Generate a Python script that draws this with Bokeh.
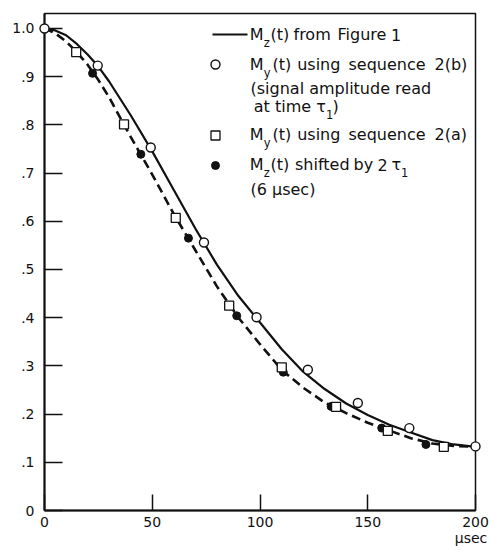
from bokeh.plotting import figure
from bokeh.models import FixedTicker, LinearAxis, ColumnDataSource
from bokeh.core.properties import value
from bokeh.embed import file_html
from bokeh.resources import INLINE

# ---------------- data ----------------
# M_z(t) from Figure 1 (solid curve)
fig1_t = [0, 5, 10, 15, 20, 25, 30, 40, 50, 60, 70, 80, 90, 100, 110, 120,
          130, 140, 150, 160, 170, 180, 190, 200]
fig1_m = [1.000, 0.996, 0.986, 0.968, 0.946, 0.921, 0.890, 0.820, 0.745,
          0.665, 0.585, 0.510, 0.445, 0.390, 0.335, 0.288, 0.252, 0.222,
          0.198, 0.178, 0.162, 0.146, 0.137, 0.132]
# M_z(t) shifted by 2 tau1 (dashed curve)
shift_t = [0, 5, 10, 15, 20, 25, 30, 40, 50, 60, 70, 80, 90, 100, 110, 120,
           130, 140, 150, 160, 170, 180, 190, 200]
shift_m = [1.000, 0.990, 0.973, 0.951, 0.925, 0.893, 0.857, 0.775, 0.697,
           0.615, 0.540, 0.465, 0.400, 0.345, 0.292, 0.255, 0.224, 0.202,
           0.182, 0.166, 0.150, 0.139, 0.134, 0.132]
# M_y(t) using sequence 2(b) (open circles)
seq2b_t = [0, 24.7, 49.3, 74.0, 98.4, 122.2, 145.4, 169.3, 200]
seq2b_m = [1.000, 0.923, 0.753, 0.556, 0.401, 0.292, 0.223, 0.171, 0.133]
# M_y(t) using sequence 2(a) (open squares)
seq2a_t = [14.7, 36.9, 60.9, 85.7, 110.1, 135.3, 159.3, 185.3]
seq2a_m = [0.951, 0.801, 0.607, 0.425, 0.297, 0.215, 0.165, 0.132]
# M_z(t) shifted by 2 tau1 (filled circles)
shifted_t = [22.3, 44.7, 66.8, 89.2, 110.8, 133.0, 156.5, 177.0]
shifted_m = [0.907, 0.739, 0.565, 0.404, 0.287, 0.216, 0.171, 0.137]

x_ticks = [0, 50, 100, 150, 200]
x_tick_labels = ["0", "50", "100", "150", "200"]
x_unit = "\u03bcsec"
y_ticks = [0.0, 0.1, 0.2, 0.3, 0.4, 0.5, 0.6, 0.7, 0.8, 0.9, 1.0]
y_tick_labels = ["0", ".1", ".2", ".3", ".4", ".5", ".6", ".7", ".8", ".9", "1.0"]

# ---------------- layout ----------------
W, H = 489, 552
LEFT, RIGHT, TOP, BOTTOM = 44, 14, 13, 42
X0, X1 = 0, 200
Y0, Y1 = 0, 1.0311
FONT = "DejaVu Sans"
INK = "#111111"

FW, FH = W - LEFT - RIGHT, H - TOP - BOTTOM


def dx(px):
    return X0 + (px - LEFT) / FW * (X1 - X0)


def dy(py):
    return Y0 + (TOP + FH - py) / FH * (Y1 - Y0)


p = figure(width=W, height=H, x_range=(X0, X1), y_range=(Y0, Y1),
           output_backend="svg", toolbar_location=None, title=None,
           min_border_left=LEFT, min_border_right=RIGHT,
           min_border_top=TOP, min_border_bottom=BOTTOM,
           background_fill_color="white", border_fill_color="white")

p.xgrid.visible = False
p.ygrid.visible = False
p.outline_line_color = INK
p.outline_line_width = 1.5
p.outline_line_alpha = 1.0

for ax in (p.xaxis[0], p.yaxis[0]):
    ax.axis_line_color = INK
    ax.axis_line_width = 2
    ax.major_tick_line_color = INK
    ax.major_tick_line_width = 1.5
    ax.minor_tick_line_color = None
    ax.major_tick_out = 0
    ax.major_label_text_font = FONT
    ax.major_label_text_font_size = "14px"
    ax.major_label_text_color = INK

p.xaxis.ticker = FixedTicker(ticks=x_ticks)
p.xaxis.major_label_overrides = dict(zip(x_ticks, x_tick_labels))
p.xaxis.major_tick_in = 16
p.xaxis.major_label_standoff = 6

p.yaxis.ticker = FixedTicker(ticks=y_ticks)
p.yaxis.major_label_overrides = dict(zip(y_ticks, y_tick_labels))
p.yaxis.major_tick_in = 18
p.yaxis.major_label_standoff = 10

# unit under the last x tick label ("μsec" below "200")
unit_axis = LinearAxis(ticker=FixedTicker(ticks=[x_ticks[-1]]),
                       major_label_overrides={x_ticks[-1]: x_unit},
                       axis_line_color=None, major_tick_line_color=None,
                       minor_tick_line_color=None, major_tick_in=0,
                       major_tick_out=0, major_label_standoff=0,
                       major_label_text_font=FONT,
                       major_label_text_font_size="14px",
                       major_label_text_color=INK)
p.add_layout(unit_axis, "below")

# curves
p.line(fig1_t, fig1_m, line_color=INK, line_width=2.2)
p.line(shift_t, shift_m, line_color=INK, line_width=2.6, line_dash="9 5")

# markers
MS = 9
r1 = p.scatter(shifted_t, shifted_m, marker="circle", size=8,
               fill_color=INK, line_color=INK)
r2 = p.scatter(seq2a_t, seq2a_m, marker="square", size=MS,
               fill_color="white", line_color=INK, line_width=1.3)
r3 = p.scatter(seq2b_t, seq2b_m, marker="circle", size=MS,
               fill_color="white", line_color=INK, line_width=1.4)
for r in (r1, r2, r3):
    r.level = "overlay"

# ---------------- legend (hand laid-out, with subscripts) ----------------
SYM_X = 215
p.line([dx(212), dx(247)], [dy(34), dy(34)], line_color=INK, line_width=2.2)
p.scatter([dx(SYM_X)], [dy(64)], marker="circle", size=MS,
          fill_color="white", line_color=INK, line_width=1.4)
p.scatter([dx(SYM_X)], [dy(135)], marker="square", size=MS,
          fill_color="white", line_color=INK, line_width=1.3)
p.scatter([dx(SYM_X)], [dy(165)], marker="circle", size=8,
          fill_color=INK, line_color=INK)

R1, R2, R2B, R2C, R3, R4, R4B = 34, 64, 87.5, 106, 134, 164, 189
main_px = [(249.3, R1, "M"), (270, R1, "(t)"), (293, R1, "from"),
           (337, R1, "Figure"), (390.5, R1, "1"),
           (249.3, R2, "M"), (272, R2, "(t)"), (296.7, R2, "using"),
           (348, R2, "sequence"), (434, R2, "2(b)"),
           (250, R2B, "(signal amplitude read"),
           (253.3, R2C, "at time \u03c4"), (332, R2C, ")"),
           (249.3, R3, "M"), (272, R3, "(t)"), (296.7, R3, "using"),
           (348, R3, "sequence"), (434, R3, "2(a)"),
           (249.3, R4, "M"), (270, R4, "(t)"), (294.5, R4, "shifted"),
           (353, R4, "by"), (377, R4, "2"), (391, R4, "\u03c4"),
           (250, R4B, "(6 \u03bcsec)")]
sub_px = [(263.3, R1 + 8.5, "z"), (263.3, R2 + 8, "y"),
          (325.5, R2C + 8, "1"), (263.3, R3 + 8, "y"),
          (263.3, R4 + 8.5, "z"), (400.5, R4 + 8, "1")]

main_src = ColumnDataSource(dict(x=[dx(a) for a, b, c in main_px],
                                 y=[dy(b) for a, b, c in main_px],
                                 text=[c for a, b, c in main_px]))
sub_src = ColumnDataSource(dict(x=[dx(a) for a, b, c in sub_px],
                                y=[dy(b) for a, b, c in sub_px],
                                text=[c for a, b, c in sub_px]))
p.text(x="x", y="y", text="text", source=main_src,
       text_font=value(FONT), text_font_size=value("16px"),
       text_color=INK, text_align="left", text_baseline="middle")
p.text(x="x", y="y", text="text", source=sub_src,
       text_font=value(FONT), text_font_size=value("11.5px"),
       text_color=INK, text_align="left", text_baseline="middle")

open("out.html", "w").write(file_html(p, INLINE))
